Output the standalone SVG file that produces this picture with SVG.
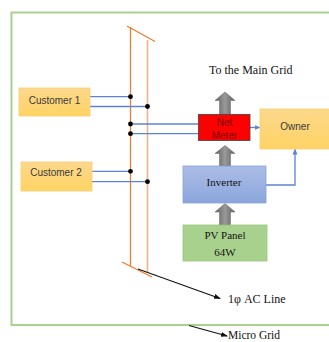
<svg xmlns="http://www.w3.org/2000/svg" width="329" height="342" viewBox="0 0 329 342">
<style>
.sans{font-family:"Liberation Sans",Arial,sans-serif;font-size:10px;fill:#3a3a3a;text-anchor:middle}
.serif{font-family:"Liberation Serif","Times New Roman",serif;fill:#111;}
.blue{stroke:#5b84d4;stroke-width:1.3;fill:none}
.dot{fill:#000}
.gray{fill:url(#gArrow);stroke:#707070;stroke-width:0.6}
</style>
<defs>
<linearGradient id="gOrange" x1="0" y1="0" x2="0" y2="1"><stop offset="0" stop-color="#fcd88c"/><stop offset="1" stop-color="#ffd364"/></linearGradient>
<linearGradient id="gBlue" x1="0" y1="0" x2="0" y2="1"><stop offset="0" stop-color="#abbde6"/><stop offset="1" stop-color="#8ba6dc"/></linearGradient>
<linearGradient id="gArrow" x1="0" y1="0" x2="1" y2="0"><stop offset="0" stop-color="#5e5e5e"/><stop offset="0.5" stop-color="#9a9a9a"/><stop offset="1" stop-color="#5e5e5e"/></linearGradient>
<marker id="mBlue" markerWidth="6" markerHeight="6" refX="5" refY="3" orient="auto" markerUnits="userSpaceOnUse"><path d="M0,0.5 L6,3 L0,5.5 Z" fill="#5b84d4"/></marker>
<marker id="mBlack" markerWidth="7" markerHeight="6" refX="6" refY="3" orient="auto" markerUnits="userSpaceOnUse"><path d="M0,0.5 L7,3 L0,5.5 Z" fill="#111"/></marker>
</defs>

<!-- micro grid border -->
<g id="microgrid-border">
<path d="M335,12.5 H11.5 V325 H335" fill="none" stroke="#a9d18e" stroke-width="2"/>
</g>

<!-- AC line -->
<g id="ac-line">
<line x1="130.5" y1="27" x2="130.5" y2="266" stroke="#ed7d31" stroke-width="1.3"/>
<line x1="147.5" y1="40" x2="147.5" y2="273" stroke="#f4b183" stroke-width="1.6"/>
<line x1="127" y1="26" x2="155" y2="41.5" stroke="#ed7d31" stroke-width="1.3"/>
<line x1="122" y1="262" x2="152" y2="277" stroke="#ed7d31" stroke-width="1.3"/>
</g>

<g id="connectors">
<line class="blue" x1="90" y1="96.7" x2="130.5" y2="96.7"/>
<line class="blue" x1="90" y1="106.5" x2="147.5" y2="106.5"/>
<line class="blue" x1="92" y1="171.3" x2="130.5" y2="171.3"/>
<line class="blue" x1="92" y1="181.7" x2="147.5" y2="181.7"/>
<line class="blue" x1="130.5" y1="124" x2="198" y2="124"/>
<line class="blue" x1="130.5" y1="133.7" x2="198" y2="133.7"/>
<line class="blue" x1="250" y1="127.5" x2="259.5" y2="127.5" marker-end="url(#mBlue)"/>
<path class="blue" d="M266,185 H295 V149.5" marker-end="url(#mBlue)"/>
<circle class="dot" cx="130.5" cy="96.7" r="2.4"/>
<circle class="dot" cx="147.5" cy="106.5" r="2.4"/>
<circle class="dot" cx="130.5" cy="171.3" r="2.4"/>
<circle class="dot" cx="147.5" cy="181.7" r="2.4"/>
<circle class="dot" cx="130.5" cy="124" r="2.4"/>
<circle class="dot" cx="130.5" cy="133.7" r="2.4"/>
<!-- gray power arrows -->
<path class="gray" d="M219.5,114 V100.5 H215 L225,92 L235,100.5 H230.5 V114 Z"/>
<path class="gray" d="M219.5,166 V153.5 H215 L225,145.5 L235,153.5 H230.5 V166 Z"/>
<path class="gray" d="M219.5,225 V212 H215 L225,203.5 L235,212 H230.5 V225 Z"/>
<!-- label pointers -->
<line x1="138" y1="269" x2="220" y2="298.5" stroke="#111" stroke-width="1.1" marker-end="url(#mBlack)"/>
<line x1="189" y1="325.5" x2="227" y2="336" stroke="#111" stroke-width="1.1" marker-end="url(#mBlack)"/>
</g>

<g id="customer1">
<rect x="19" y="88" width="71" height="28" fill="url(#gOrange)" stroke="#f6cf73" stroke-width="0.8"/>
<text class="sans" x="54.5" y="103.5">Customer 1</text>
</g>
<g id="customer2">
<rect x="21" y="162" width="71" height="29" fill="url(#gOrange)" stroke="#f6cf73" stroke-width="0.8"/>
<text class="sans" x="56" y="175.5">Customer 2</text>
</g>
<g id="net-meter">
<rect x="198.5" y="114.5" width="51.5" height="26" fill="#ff0000" stroke="#404040" stroke-width="0.8"/>
<text class="sans" x="224.5" y="126" style="fill:#7a0000">Net</text>
<text class="sans" x="224.5" y="138.5" style="fill:#7a0000">Meter</text>
</g>
<g id="owner">
<rect x="260" y="109" width="72" height="40" fill="url(#gOrange)" stroke="#f6cf73" stroke-width="0.8"/>
<text class="sans" x="295" y="129.5">Owner</text>
</g>
<g id="inverter">
<rect x="183" y="166" width="83" height="37" fill="url(#gBlue)" stroke="#8aa4d8" stroke-width="0.8"/>
<text class="serif" x="224" y="186" font-size="11" text-anchor="middle">Inverter</text>
</g>
<g id="pv-panel">
<rect x="183" y="225" width="84" height="36" fill="#a9d18e" stroke="#98c67a" stroke-width="0.8"/>
<text class="serif" x="225" y="238.5" font-size="11" text-anchor="middle">PV Panel</text>
<text class="serif" x="225" y="256" font-size="11" text-anchor="middle">64W</text>
</g>
<g id="labels">
<text class="serif" x="209" y="74" font-size="12">To the Main Grid</text>
<text class="serif" x="228" y="303" font-size="12">1φ AC Line</text>
<text class="serif" x="228" y="339" font-size="11.5">Micro Grid</text>
</g>
</svg>
